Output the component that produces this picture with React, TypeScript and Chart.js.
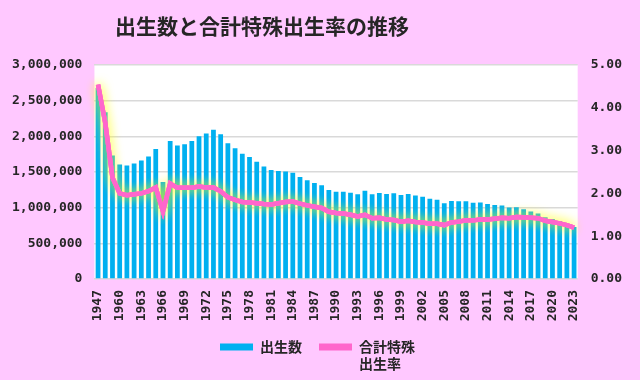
import React, { useEffect, useRef } from "react";
import { Chart, registerables } from "chart.js";

Chart.register(...registerables);

const years: string[] = [
  "1947", "1950", "1955",
  "1960", "1961", "1962", "1963", "1964", "1965", "1966", "1967", "1968", "1969",
  "1970", "1971", "1972", "1973", "1974", "1975", "1976", "1977", "1978", "1979",
  "1980", "1981", "1982", "1983", "1984", "1985", "1986", "1987", "1988", "1989",
  "1990", "1991", "1992", "1993", "1994", "1995", "1996", "1997", "1998", "1999",
  "2000", "2001", "2002", "2003", "2004", "2005", "2006", "2007", "2008", "2009",
  "2010", "2011", "2012", "2013", "2014", "2015", "2016", "2017", "2018", "2019",
  "2020", "2021", "2022", "2023",
];

const births: number[] = [
  2678792, 2337507, 1730692,
  1606041, 1589372, 1618616, 1659521, 1716761, 1823697, 1360974, 1935647, 1871839, 1889815,
  1934239, 2000973, 2038682, 2091983, 2029989, 1901440, 1832617, 1755100, 1708643, 1642580,
  1576889, 1529455, 1515392, 1508687, 1489780, 1431577, 1382946, 1346658, 1314006, 1246802,
  1221585, 1223245, 1208989, 1188282, 1238328, 1187064, 1206555, 1191665, 1203147, 1177669,
  1190547, 1170662, 1153855, 1123610, 1110721, 1062530, 1092674, 1089818, 1091156, 1070036,
  1071304, 1050806, 1037231, 1029816, 1003609, 1005721, 977242, 946146, 918400, 865239,
  840835, 811622, 770759, 727288,
];

const tfr: number[] = [
  4.54, 3.65, 2.37,
  2.0, 1.96, 1.98, 2.0, 2.05, 2.14, 1.58, 2.23, 2.13, 2.13,
  2.13, 2.16, 2.14, 2.14, 2.05, 1.91, 1.85, 1.8, 1.79, 1.77,
  1.75, 1.74, 1.77, 1.8, 1.81, 1.76, 1.72, 1.69, 1.66, 1.57,
  1.54, 1.53, 1.5, 1.46, 1.5, 1.42, 1.43, 1.39, 1.38, 1.34,
  1.36, 1.33, 1.32, 1.29, 1.29, 1.26, 1.32, 1.34, 1.37, 1.37,
  1.39, 1.39, 1.41, 1.43, 1.42, 1.45, 1.44, 1.43, 1.42, 1.36,
  1.33, 1.3, 1.26, 1.2,
];

const leftTicks = { min: 0, max: 3000000, step: 500000 };
const rightTicks = { min: 0, max: 5, step: 1 };

const titleText = "出生数と合計特殊出生率の推移";
const birthsLabel = "出生数";
const tfrLabel = ["合計特殊", "出生率"];

const BG = "#FFC8FF";
const BLUE = "#00B0F0";
const PINK = "#FF66CC";
const TEXT = "#262626";
const JP = "'Noto Sans CJK JP', 'Noto Sans', sans-serif";
const MONO = "'DejaVu Sans Mono', 'Liberation Mono', monospace";

function multiLine(lines: string[]): any {
  const arr: any = lines.slice();
  // width of the legend item is measured on the widest line
  arr.toString = () => lines.reduce((a, b) => (a.length >= b.length ? a : b));
  return arr;
}

export default function App() {
  const ref = useRef<HTMLCanvasElement | null>(null);

  useEffect(() => {
    document.body.style.margin = "0";
    const canvas = ref.current;
    if (!canvas) return;

    const plotBg = {
      id: "plotBg",
      beforeDraw(chart: any) {
        const { ctx, chartArea } = chart;
        // let the two-line legend item render below the legend box
        if (chart.legend) chart.legend.bottom = chart.height;
        ctx.save();
        ctx.fillStyle = "#FFFFFF";
        ctx.fillRect(chartArea.left, chartArea.top, chartArea.right - chartArea.left, chartArea.bottom - chartArea.top);
        ctx.restore();
      },
    };

    const titlePlugin = {
      id: "customTitle",
      afterDraw(chart: any) {
        const { ctx } = chart;
        ctx.save();
        ctx.font = `bold 21px ${JP}`;
        ctx.fillStyle = TEXT;
        ctx.textAlign = "center";
        ctx.textBaseline = "middle";
        ctx.fillText(titleText, 262, 26);
        ctx.restore();
      },
    };

    const glow = {
      id: "glow",
      beforeDatasetDraw(chart: any, args: any) {
        if (args.index === 1) {
          const ctx = chart.ctx;
          ctx.save();
          ctx.shadowColor = "rgba(255,255,0,0.65)";
          ctx.shadowBlur = 11;
          args.meta.controller.draw();
          args.meta.controller.draw();
          ctx.restore();
        }
      },
    };

    const chart = new Chart(canvas, {
      type: "bar",
      data: {
        labels: years,
        datasets: [
          {
            type: "bar",
            label: birthsLabel,
            data: births,
            backgroundColor: BLUE,
            borderWidth: 0,
            barPercentage: 0.66,
            categoryPercentage: 1,
            yAxisID: "y",
            order: 2,
          },
          {
            type: "line",
            label: tfrLabel.join(""),
            data: tfr,
            borderColor: PINK,
            backgroundColor: PINK,
            borderWidth: 4.5,
            pointRadius: 0,
            tension: 0,
            yAxisID: "y1",
            order: 1,
            clip: false as any,
          } as any,
        ],
      },
      options: {
        responsive: false,
        animation: false,
        layout: { padding: { left: 0, right: 5, top: 65, bottom: 16 } },
        plugins: {
          title: { display: false },
          tooltip: { enabled: false },
          legend: {
            position: "bottom",
            labels: {
              font: { family: JP, size: 14, weight: "bold" },
              color: TEXT,
              boxWidth: 33,
              boxHeight: 7,
              padding: 17,
              generateLabels: () => [
                { text: birthsLabel, fillStyle: BLUE, strokeStyle: BLUE, lineWidth: 0, datasetIndex: 0, fontColor: TEXT },
                { text: multiLine(tfrLabel), fillStyle: PINK, strokeStyle: PINK, lineWidth: 0, datasetIndex: 1, fontColor: TEXT },
              ],
            },
          },
        },
        scales: {
          x: {
            grid: { display: false, drawTicks: false },
            border: { display: false },
            afterFit: (scale: any) => {
              scale.height = 44;
            },
            ticks: {
              autoSkip: false,
              maxRotation: 90,
              minRotation: 90,
              padding: 11,
              color: TEXT,
              font: { family: MONO, size: 13, weight: "bold" },
              callback: (_v: any, i: number) => (i % 3 === 0 ? years[i] : null),
            },
          },
          y: {
            position: "left",
            min: leftTicks.min,
            max: leftTicks.max,
            border: { display: false },
            grid: { color: "#D9D9D9", lineWidth: 1.5, drawTicks: false },
            ticks: {
              stepSize: leftTicks.step,
              padding: 12,
              color: TEXT,
              font: { family: MONO, size: 13, weight: "bold" },
              callback: (v: any) => Number(v).toLocaleString("en-US"),
            },
          },
          y1: {
            position: "right",
            min: rightTicks.min,
            max: rightTicks.max,
            border: { display: false },
            grid: { display: false, drawTicks: false },
            ticks: {
              stepSize: rightTicks.step,
              padding: 13,
              color: TEXT,
              font: { family: MONO, size: 13, weight: "bold" },
              callback: (v: any) => Number(v).toFixed(2),
            },
          },
        },
      } as any,
      plugins: [plotBg, glow, titlePlugin],
    });

    return () => chart.destroy();
  }, []);

  return (
    <div style={{ width: 640, height: 380, background: BG }}>
      <canvas ref={ref} width={640} height={380} style={{ display: "block" }} />
    </div>
  );
}
